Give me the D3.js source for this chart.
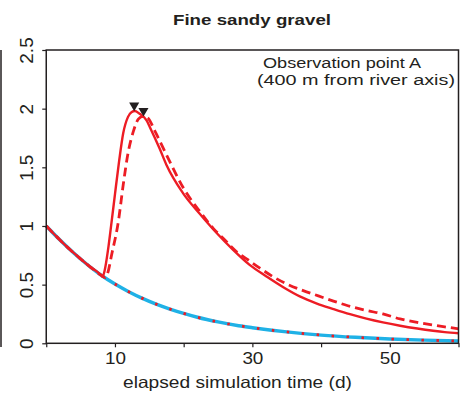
<!DOCTYPE html>
<html>
<head>
<meta charset="utf-8">
<script src="https://cdn.jsdelivr.net/npm/d3@7/dist/d3.min.js"></script>
<style>
  html, body { margin: 0; padding: 0; background: #fff; }
  svg { display: block; font-family: "Liberation Sans", Arial, sans-serif; }
</style>
</head>
<body>
<svg id="chart" width="461" height="405"></svg>
<script>
// Baseline head (blue) with its companion dotted red run
const baseT = [0, 2, 4, 6, 8, 10, 12, 14, 16, 18, 20, 22, 25, 28, 30, 35, 40, 45, 50, 55, 60];
const baseV = [1.0, 0.88, 0.77, 0.67, 0.58, 0.505, 0.44, 0.383, 0.334, 0.292, 0.255, 0.222, 0.182, 0.15, 0.133, 0.097, 0.07, 0.051, 0.037, 0.027, 0.02];

// Flood-wave response, solid red
const solidT = [0, 2, 4, 6, 8, 8.2, 8.5, 9, 9.5, 10, 10.6, 11.2, 11.9, 12.4, 12.9, 13.5, 14.6, 15.1, 16.5, 17.5, 19.9, 22.4, 24.8, 27.2, 29.6, 32.1, 34.5, 36.9, 39.3, 41.8, 44.2, 46.6, 49, 51.5, 54, 56.3, 58, 60];
const solidV = [1.0, 0.88, 0.77, 0.67, 0.58, 0.568, 0.62, 0.8, 1.03, 1.27, 1.55, 1.79, 1.93, 1.97, 1.98, 1.96, 1.9, 1.84, 1.66, 1.52, 1.28, 1.1, 0.94, 0.796, 0.668, 0.568, 0.478, 0.4, 0.341, 0.292, 0.248, 0.21, 0.178, 0.15, 0.126, 0.107, 0.095, 0.085];

// Flood-wave response, dashed red
const dashT = [0, 2, 4, 6, 8, 8.6, 9.0, 9.5, 10.5, 11.2, 11.9, 12.7, 13.4, 14.1, 14.8, 15.8, 17.8, 19.9, 22.4, 24.3, 26, 27.7, 29.4, 31.1, 33, 35, 37.4, 39.6, 41.8, 43.9, 46.6, 49, 51.5, 54, 56.3, 58, 60];
const dashV = [1.0, 0.88, 0.77, 0.67, 0.58, 0.56, 0.61, 0.75, 1.04, 1.35, 1.62, 1.81, 1.91, 1.935, 1.92, 1.81, 1.57, 1.33, 1.12, 0.98, 0.88, 0.78, 0.71, 0.64, 0.568, 0.506, 0.449, 0.404, 0.36, 0.32, 0.28, 0.25, 0.208, 0.178, 0.155, 0.14, 0.124];

// Peak markers
const peakT = [12.8, 14.15];
const peakV = [1.98, 1.935];

const xTicks = [0, 10, 20, 30, 40, 50, 60];
const xTickLabels = ["", "10", "", "30", "", "50", ""];
const yTicks = [0, 0.5, 1, 1.5, 2, 2.5];
const yTickLabels = ["0", "0.5", "1", "1.5", "2", "2.5"];

const titleText = "Fine sandy gravel";
const noteLines = ["Observation point A", "(400 m from river axis)"];
const xLabel = "elapsed simulation time (d)";

const ink = "#231f20";
const red = "#ed1c24";
const blue = "#1fb1e6";

const svg = d3.select("#chart");
const plotLeft = 46.25, plotRight = 458.5, plotTop = 50, plotBottom = 343.3;

const x = d3.scaleLinear().domain([0, 60]).range([plotLeft, plotRight]);
const y = d3.scaleLinear().domain([0, 2.5]).range([plotBottom, plotTop]);

// Piece of the neighbouring panel's frame at the far left
svg.append("line")
  .attr("x1", 1).attr("x2", 1).attr("y1", plotTop).attr("y2", 347)
  .attr("stroke", ink).attr("stroke-width", 1.5);

// Curves
const line = d3.line().x(d => x(d[0])).y(d => y(d[1])).curve(d3.curveMonotoneX);
const zip = (ts, vs) => ts.map((t, i) => [t, vs[i]]);

const plot = svg.append("g");
plot.append("path").datum(zip(baseT, baseV)).attr("d", line)
  .attr("fill", "none").attr("stroke", blue).attr("stroke-width", 3.4);
plot.append("path").datum(zip(baseT, baseV)).attr("d", line)
  .attr("fill", "none").attr("stroke", red).attr("stroke-width", 2.8)
  .attr("stroke-dasharray", "2.5,12.5");
plot.append("path").datum(zip(dashT, dashV)).attr("d", line)
  .attr("fill", "none").attr("stroke", red).attr("stroke-width", 2.8)
  .attr("stroke-dasharray", "9,5");
plot.append("path").datum(zip(solidT, solidV)).attr("d", line)
  .attr("fill", "none").attr("stroke", red).attr("stroke-width", 2.4)
  .attr("stroke-linejoin", "round");

// Peak triangles, tip resting on the peak
const tri = d3.symbol().type(d3.symbolTriangle).size(44);
plot.selectAll("path.peak").data(zip(peakT, peakV)).join("path")
  .attr("class", "peak")
  .attr("d", tri)
  .attr("fill", ink)
  .attr("transform", d => `translate(${x(d[0])},${y(d[1]) - 5.5}) rotate(180)`);

// Axes
const xAxis = d3.axisBottom(x).tickValues(xTicks)
  .tickFormat((d, i) => xTickLabels[i]).tickSize(4).tickSizeOuter(0);
const gx = svg.append("g").attr("transform", `translate(0,${plotBottom})`).call(xAxis);
gx.select(".domain").remove();
gx.selectAll(".tick line").attr("stroke", ink).attr("stroke-width", 1.2);
gx.selectAll(".tick text").attr("fill", ink).attr("font-size", 17)
  .attr("y", 9).attr("dy", "0.71em")
  .attr("textLength", 21).attr("lengthAdjust", "spacingAndGlyphs")
  .attr("text-anchor", "middle");

const yAxis = d3.axisLeft(y).tickValues(yTicks)
  .tickFormat((d, i) => yTickLabels[i]).tickSize(4).tickSizeOuter(0);
const gy = svg.append("g").attr("transform", `translate(${plotLeft},0)`).call(yAxis);
gy.select(".domain").remove();
gy.selectAll(".tick line").attr("stroke", ink).attr("stroke-width", 1.2);
gy.selectAll(".tick text")
  .attr("fill", ink).attr("font-size", 19)
  .attr("x", null).attr("dy", null)
  .attr("text-anchor", "middle")
  .attr("transform", "translate(-13,0) rotate(-90)");

// Frame
svg.append("rect")
  .attr("x", plotLeft).attr("y", plotTop)
  .attr("width", plotRight - plotLeft).attr("height", plotBottom - plotTop)
  .attr("fill", "none").attr("stroke", ink).attr("stroke-width", 1.5);

// Texts
svg.append("text").text(titleText)
  .attr("x", 173).attr("y", 25)
  .attr("font-weight", "bold")
  .attr("font-size", 15.5).attr("fill", ink)
  .attr("textLength", 158).attr("lengthAdjust", "spacingAndGlyphs");

const noteX = [263, 257];
const noteW = [158, 198];
svg.append("g")
  .selectAll("text").data(noteLines).join("text")
  .attr("font-size", 15.2).attr("fill", ink)
  .attr("x", (d, i) => noteX[i])
  .attr("y", (d, i) => 67.5 + i * 17.1)
  .attr("textLength", (d, i) => noteW[i])
  .attr("lengthAdjust", "spacingAndGlyphs")
  .text(d => d);

svg.append("text").text(xLabel)
  .attr("x", 123).attr("y", 388)
  .attr("font-size", 16.5).attr("fill", ink)
  .attr("textLength", 229).attr("lengthAdjust", "spacingAndGlyphs");
</script>
</body>
</html>
